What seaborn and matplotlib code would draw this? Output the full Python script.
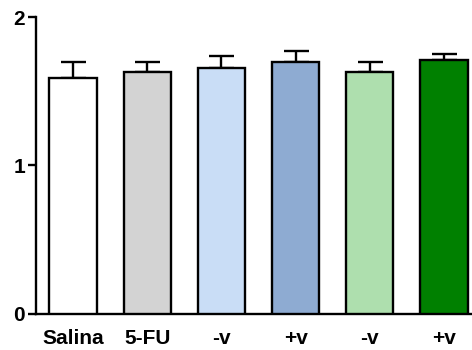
import matplotlib
matplotlib.use("Agg")
import matplotlib.pyplot as plt
import seaborn as sns
import pandas as pd
import numpy as np

# Group labels, means and SEM
groups = ["Salina", "5-FU", "-v ", "+v ", "-v", "+v"]
means = [1.59, 1.63, 1.655, 1.695, 1.63, 1.71]
sem = [0.105, 0.065, 0.085, 0.08, 0.065, 0.04]
colors = ["#ffffff", "#d3d3d3", "#c9ddf6", "#8eabd2", "#aedfae", "#008000"]
yticks = [0, 1, 2]

sns.set_theme(style="ticks")
plt.rcParams["font.family"] = ["Liberation Sans", "DejaVu Sans"]
plt.rcParams["font.weight"] = "bold"

df = pd.DataFrame({"group": groups, "value": means})

fig = plt.figure(figsize=(4.72, 3.5), dpi=100)
ax = fig.add_axes([36 / 472, 0.104, 445 / 472, 0.847])

sns.barplot(data=df, x="group", y="value", hue="group", palette=colors,
            saturation=1, legend=False, errorbar=None, width=0.64,
            edgecolor="black", linewidth=1.7, ax=ax, zorder=3)

x = np.arange(len(groups))
ax.errorbar(x, means, yerr=[np.zeros(len(sem)), sem], fmt="none",
            ecolor="black", elinewidth=1.7, capsize=9, capthick=1.7, zorder=2)

ax.set_xlim(-0.5, len(groups) - 0.5)
ax.set_ylim(0, 2)
ax.set_yticks(yticks)
ax.set_yticklabels([str(t) for t in yticks], fontsize=15, fontweight="bold",
                   color="black")
ax.set_xticks(x)
ax.set_xticklabels([g.strip() for g in groups], fontsize=15, fontweight="bold",
                   color="black")
ax.tick_params(axis="x", length=0, pad=11)
ax.tick_params(axis="y", length=6, width=1.7, pad=2, direction="out",
               color="black")
ax.set_xlabel("")
ax.set_ylabel("")
for s in ["top", "right"]:
    ax.spines[s].set_visible(False)
for s in ["left", "bottom"]:
    ax.spines[s].set_linewidth(1.7)
    ax.spines[s].set_color("black")

fig.savefig("out.png", dpi=100)
